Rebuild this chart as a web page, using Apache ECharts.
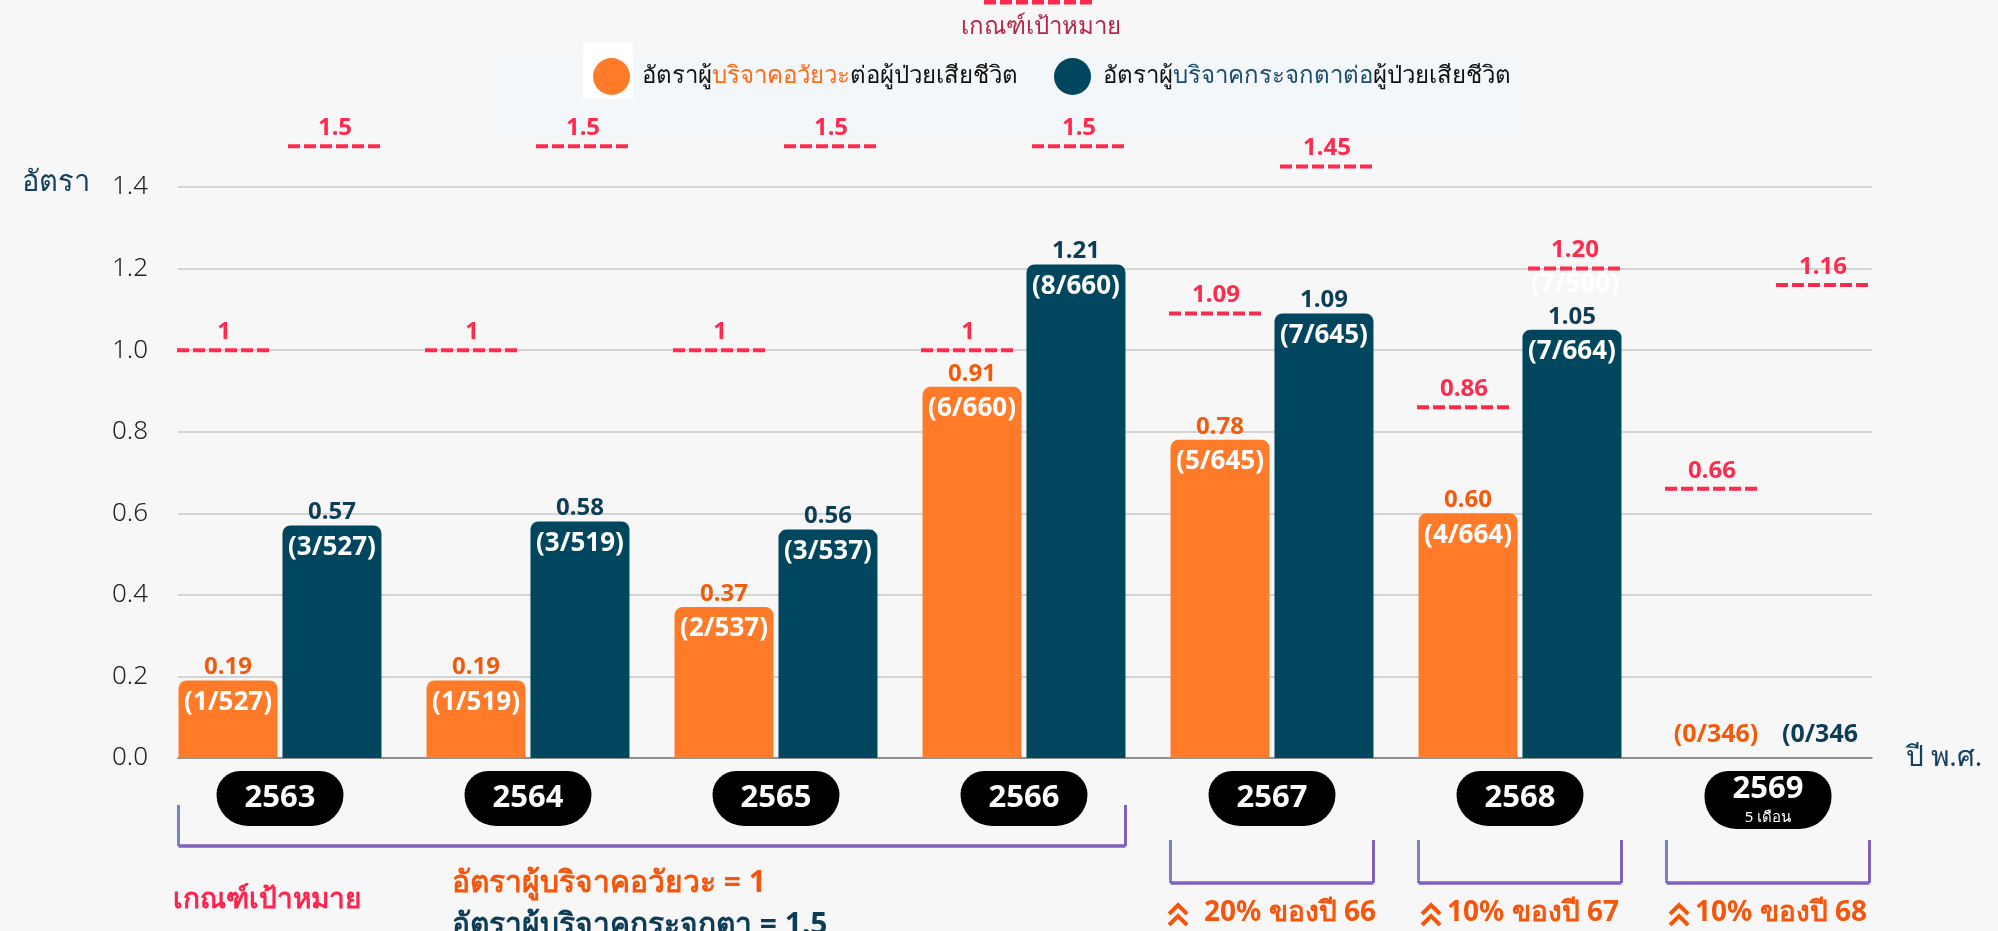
<!DOCTYPE html>
<html>
<head>
<meta charset="utf-8">
<title>อัตราผู้บริจาคอวัยวะและกระจกตาต่อผู้ป่วยเสียชีวิต</title>
<script src="https://cdn.jsdelivr.net/npm/echarts@6/dist/echarts.min.js"></script>
<style>
  html, body { margin: 0; padding: 0; background: #f7f7f7; }
  #chart { width: 1998px; height: 931px; }
</style>
</head>
<body>
<div id="chart"></div>
<script>
// ข้อมูล
const years = ['2563', '2564', '2565', '2566', '2567', '2568', '2569']
const partialYearNote = '5 เดือน'   // ใต้ปี 2569
const organRate = [0.19, 0.19, 0.37, 0.91, 0.78, 0.60, 0]
const corneaRate = [0.57, 0.58, 0.56, 1.21, 1.09, 1.05, 0]
const organCount = ['(1/527)', '(1/519)', '(2/537)', '(6/660)', '(5/645)', '(4/664)', '(0/346)']
const corneaCount = ['(3/527)', '(3/519)', '(3/537)', '(8/660)', '(7/645)', '(7/664)', '(0/346']
const organTarget = [1, 1, 1, 1, 1.09, 0.86, 0.66]
const corneaTarget = [1.5, 1.5, 1.5, 1.5, 1.45, 1.20, 1.16]
const organTargetText = ['1', '1', '1', '1', '1.09', '0.86', '0.66']
const corneaTargetText = ['1.5', '1.5', '1.5', '1.5', '1.45', '1.20', '1.16']
const corneaTargetSub = ['', '', '', '', '', '(7/500)', '']
const yMin = 0
const yMax = 1.4
const yStep = 0.2
const bracketGroups = [[0, 3], [4, 4], [5, 5], [6, 6]]
const bracketNotes = ['', '20% ของปี 66', '10% ของปี 67', '10% ของปี 68']

const organName = 'อัตราผู้บริจาคอวัยวะต่อผู้ป่วยเสียชีวิต'
const corneaName = 'อัตราผู้บริจาคกระจกตาต่อผู้ป่วยเสียชีวิต'

const FONT = '"Noto Sans", sans-serif'
const ORANGE = '#ff7b29'
const ORANGE_TEXT = '#f45a0a'
const NAVY = '#01465f'
const NAVY_TEXT = '#0d3d56'
const RED = '#ff2a4d'
const BAR_W = 99
const BAR_SHIFT = BAR_W * 1.05 / 2

const chart = echarts.init(document.getElementById('chart'))

function barData(values, counts, key) {
  return values.map((v, i) => {
    if (v > 0) {
      return { value: v, label: { formatter: `{${key}|${v.toFixed(2)}}\n{c|${counts[i]}}` } }
    }
    return {
      value: v,
      label: { position: 'top', distance: 10, offset: [0, 0], formatter: `{${key}z|${counts[i]}}` }
    }
  })
}

function targetSeries(name, values, texts, shift, subTexts) {
  return {
    type: 'custom',
    name: name,
    xAxisIndex: 0,
    yAxisIndex: 0,
    z: 5,
    silent: true,
    data: values.map((v, i) => [i, v]),
    renderItem(params, api) {
      const i = api.value(0)
      const p = api.coord([i, api.value(1)])
      const x = p[0] + shift
      const children = [
        {
          type: 'line',
          shape: { x1: x - 47, y1: p[1], x2: x + 47, y2: p[1] },
          style: { stroke: RED, lineWidth: 4, lineDash: [12, 4] }
        },
        {
          type: 'text',
          x: x,
          y: p[1] - 6,
          style: { text: texts[i], fill: RED, font: `bold 24px ${FONT}`, align: 'center', verticalAlign: 'bottom' }
        }
      ]
      if (subTexts && subTexts[i]) {
        children.push({
          type: 'text',
          x: x,
          y: p[1] + 3,
          style: { text: subTexts[i], fill: 'rgba(255,255,255,0.92)', font: `bold 26px ${FONT}`, align: 'center', verticalAlign: 'top' }
        })
      }
      return { type: 'group', children }
    }
  }
}

const barLabel = {
  show: true,
  position: 'insideTop',
  distance: 5,
  offset: [0, -36],
  fontFamily: FONT,
  rich: {
    o: { color: ORANGE_TEXT, fontSize: 24, fontWeight: 'bold', lineHeight: 36, fontFamily: FONT },
    n: { color: NAVY_TEXT, fontSize: 24, fontWeight: 'bold', lineHeight: 36, fontFamily: FONT },
    c: { color: '#fff', fontSize: 26, fontWeight: 'bold', lineHeight: 34, fontFamily: FONT },
    oz: { color: ORANGE_TEXT, fontSize: 25, fontWeight: 'bold', lineHeight: 26, fontFamily: FONT },
    nz: { color: NAVY_TEXT, fontSize: 25, fontWeight: 'bold', lineHeight: 26, fontFamily: FONT }
  }
}

chart.setOption({
  backgroundColor: '#f7f7f7',
  textStyle: { fontFamily: FONT },
  animation: false,
  legend: {
    data: [organName, corneaName],
    left: 588,
    top: 53,
    icon: 'circle',
    itemWidth: 37,
    itemHeight: 37,
    itemGap: 36,
    selectedMode: false,
    formatter(name) {
      if (name === organName) return '{k|อัตราผู้}{o|บริจาคอวัยวะ}{k|ต่อผู้ป่วยเสียชีวิต}'
      return '{k|อัตราผู้}{n|บริจาคกระจกตาต่อ}{k|ผู้ป่วยเสียชีวิต}'
    },
    textStyle: {
      padding: [0, 0, 0, 7],
      rich: {
        k: { color: '#111', fontSize: 24, fontFamily: FONT },
        o: { color: '#ff6a1c', fontSize: 24, fontFamily: FONT },
        n: { color: '#1d4b6b', fontSize: 24, fontFamily: FONT }
      }
    }
  },
  grid: [
    { left: 156, width: 1736, top: 187, height: 571 },
    { left: 178, right: 126, top: 187, height: 571 }
  ],
  xAxis: [
    {
      type: 'category',
      gridIndex: 0,
      data: years,
      axisLine: { show: false },
      axisTick: { show: false },
      axisLabel: {
        interval: 0,
        margin: 13,
        backgroundColor: '#000',
        borderRadius: [24, 24, 32, 32],
        formatter(value) {
          if (value === '2569') return `{y2|${value}}\n{m|${partialYearNote}}`
          return `{y|${value}}`
        },
        rich: {
          y: { color: '#fff', fontSize: 31, fontWeight: 'bold', width: 127, align: 'center', lineHeight: 55, fontFamily: FONT },
          y2: { color: '#fff', fontSize: 31, fontWeight: 'bold', width: 127, align: 'center', lineHeight: 36, fontFamily: FONT },
          m: { color: '#fff', fontSize: 15, width: 127, align: 'center', lineHeight: 22, fontFamily: FONT }
        }
      }
    },
    {
      type: 'value',
      gridIndex: 1,
      min: 0,
      max: 1,
      axisLine: { show: true, lineStyle: { color: '#7a7a7a', width: 1.5 } },
      axisTick: { show: false },
      axisLabel: { show: false },
      splitLine: { show: false },
      name: 'ปี พ.ศ.',
      nameLocation: 'end',
      nameGap: 34,
      nameTextStyle: { color: '#13405e', fontSize: 28, verticalAlign: 'middle', padding: [0, 0, 16, 0] }
    }
  ],
  yAxis: [
    { type: 'value', gridIndex: 0, min: yMin, max: yMax, interval: yStep, show: false },
    {
      type: 'value',
      gridIndex: 1,
      min: yMin,
      max: yMax,
      interval: yStep,
      axisLine: { show: false },
      axisTick: { show: false },
      axisLabel: {
        margin: 30,
        color: '#222',
        fontSize: 26,
        fontWeight: 300,
        formatter: v => v.toFixed(1)
      },
      splitLine: { lineStyle: { color: '#c9c9c9', width: 1.5 } },
      name: 'อัตรา',
      nameLocation: 'end',
      nameGap: 4,
      nameTextStyle: { color: '#13405e', fontSize: 29, align: 'right', verticalAlign: 'middle', padding: [0, 88, 0, 0] }
    }
  ],
  series: [
    {
      type: 'bar',
      name: organName,
      xAxisIndex: 0,
      yAxisIndex: 0,
      barWidth: BAR_W,
      barGap: '5%',
      itemStyle: { color: ORANGE, borderRadius: [8, 8, 0, 0] },
      label: barLabel,
      data: barData(organRate, organCount, 'o')
    },
    {
      type: 'bar',
      name: corneaName,
      xAxisIndex: 0,
      yAxisIndex: 0,
      barWidth: BAR_W,
      barGap: '5%',
      itemStyle: { color: NAVY, borderRadius: [8, 8, 0, 0] },
      label: barLabel,
      data: barData(corneaRate, corneaCount, 'n')
    },
    targetSeries('เป้าหมายอวัยวะ', organTarget, organTargetText, -56),
    targetSeries('เป้าหมายกระจกตา', corneaTarget, corneaTargetText, 55, corneaTargetSub)
  ]
})

// ส่วนประกอบเพิ่มเติม: กรอบ legend, วงเล็บช่วงปี, ข้อความเกณฑ์
function px(i) {
  return chart.convertToPixel({ gridIndex: 0 }, [i, 0])[0]
}

const measureCtx = document.createElement('canvas').getContext('2d')
function textWidth(text, font) {
  measureCtx.font = font
  return measureCtx.measureText(text).width
}

const NOTE_FONT = `bold 28px ${FONT}`

const graphics = [
  { type: 'rect', z: -1, shape: { x: 497, y: 52, width: 1033, height: 88 }, style: { fill: '#f3f7f9' } },
  { type: 'rect', z: -1, shape: { x: 583, y: 43, width: 50, height: 56 }, style: { fill: '#ffffff' } },
  { type: 'line', shape: { x1: 984, y1: 2, x2: 1092, y2: 2 }, style: { stroke: RED, lineWidth: 5, lineDash: [12, 4] } },
  { type: 'text', x: 1041, y: 27, style: { text: 'เกณฑ์เป้าหมาย', fill: '#b3284b', font: `300 24px ${FONT}`, align: 'center', verticalAlign: 'middle' } },
  { type: 'text', x: 173, y: 900, style: { text: 'เกณฑ์เป้าหมาย', fill: '#ff2450', font: `bold 28px ${FONT}`, align: 'left', verticalAlign: 'middle' } },
  { type: 'text', x: 452, y: 883, style: { text: 'อัตราผู้บริจาคอวัยวะ = 1', fill: '#f5560c', font: `bold 30px ${FONT}`, align: 'left', verticalAlign: 'middle' } },
  { type: 'text', x: 452, y: 925, style: { text: 'อัตราผู้บริจาคกระจกตา = 1.5', fill: '#0d3d56', font: `bold 30px ${FONT}`, align: 'left', verticalAlign: 'middle' } }
]

bracketGroups.forEach((g, k) => {
  const left = px(g[0]) - BAR_SHIFT - BAR_W / 2
  const right = px(g[1]) + BAR_SHIFT + BAR_W / 2
  const top = k === 0 ? 805 : 840
  const bottom = k === 0 ? 846 : 883
  graphics.push(
    { type: 'line', shape: { x1: left, y1: top, x2: left, y2: bottom }, style: { stroke: '#7a84c2', lineWidth: 3 } },
    { type: 'line', shape: { x1: right, y1: top, x2: right, y2: bottom }, style: { stroke: '#7f60bf', lineWidth: 3 } },
    { type: 'line', shape: { x1: left, y1: bottom, x2: right, y2: bottom }, style: { stroke: '#7f60bf', lineWidth: 3.5 } }
  )
  if (bracketNotes[k]) {
    // double chevron icon + text, centred under the bracket
    const gap = k === 1 ? 16 : 6
    const w = 20 + gap + textWidth(bracketNotes[k], NOTE_FONT)
    const x0 = (left + right) / 2 - w / 2
    const cy = 913
    ;[-6, 5].forEach(dy => {
      graphics.push({
        type: 'polyline',
        shape: { points: [[x0 + 1, cy + dy + 7], [x0 + 10, cy + dy - 2], [x0 + 19, cy + dy + 7]] },
        style: { stroke: '#f5560c', lineWidth: 4, fill: null }
      })
    })
    graphics.push({
      type: 'text',
      x: x0 + 20 + gap,
      y: cy,
      style: { text: bracketNotes[k], fill: '#f5560c', font: NOTE_FONT, align: 'left', verticalAlign: 'middle' }
    })
  }
})

chart.setOption({ graphic: graphics })
</script>
</body>
</html>
